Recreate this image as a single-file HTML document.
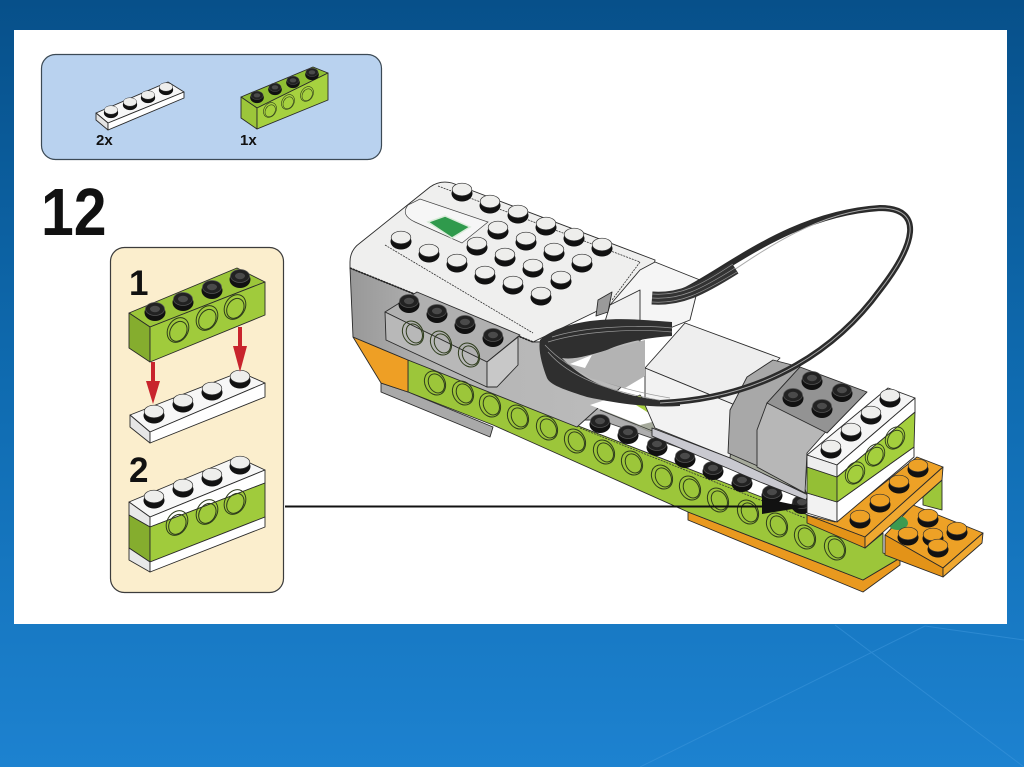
<!DOCTYPE html>
<html><head><meta charset="utf-8"><style>
html,body{margin:0;padding:0;width:1024px;height:767px;overflow:hidden;background:#1170b5}
svg{display:block}
text{font-family:"Liberation Sans",sans-serif;font-weight:bold;fill:#111}
.e polygon,.e path.l{stroke:#2a2a2a;stroke-width:.9;stroke-linejoin:round}
</style></head><body>
<svg width="1024" height="767" viewBox="0 0 1024 767" xmlns="http://www.w3.org/2000/svg">
<defs>
<linearGradient id="bg" x1="0" y1="0" x2="0" y2="1"><stop offset="0" stop-color="#07508a"/><stop offset=".5" stop-color="#0f6bb0"/><stop offset="1" stop-color="#1d82d0"/></linearGradient>
<linearGradient id="side" x1="0" y1="0" x2="1" y2="0"><stop offset="0" stop-color="#989898"/><stop offset=".3" stop-color="#b4b4b4"/><stop offset="1" stop-color="#bcbcbc"/></linearGradient>
<g id="w"><ellipse cx="0" cy="2.500" rx="10.500" ry="8" fill="#111"/><ellipse cx="0" cy="-1.500" rx="9.800" ry="6.300" fill="#eeeeec" stroke="#333" stroke-width=".7"/></g>
<g id="o"><ellipse cx="0" cy="2.500" rx="10.500" ry="8" fill="#111"/><ellipse cx="0" cy="-1.500" rx="9.800" ry="6.300" fill="#eda126" stroke="#333" stroke-width=".7"/></g>
<g id="k"><ellipse cx="0" cy="2.500" rx="10.500" ry="8.500" fill="#111"/><ellipse cx="0" cy="-1" rx="9.500" ry="6.500" fill="#222" stroke="#555" stroke-width=".7"/><ellipse cx="0" cy="-1" rx="5" ry="3.200" fill="#4a4a4a"/></g>
<g id="h" fill="none" stroke="#2e3c1c" stroke-width="1"><ellipse cx="0" cy="0" rx="10" ry="12.500" transform="rotate(-28)"/><ellipse cx="1" cy="1" rx="7.500" ry="10" transform="rotate(-28)"/></g>
<g id="j" fill="none" stroke="#2e3c1c" stroke-width="1"><ellipse cx="0" cy="0" rx="10" ry="13" transform="rotate(30)"/><ellipse cx="1" cy="1" rx="8" ry="10.500" transform="rotate(30)"/></g>
</defs>
<rect width="1024" height="767" fill="url(#bg)"/>
<g stroke="#3a94da" stroke-width="1" fill="none" opacity=".6"><path d="M640 767L925 626M835 625L1024 767M1024 640L925 626"/></g>
<rect x="14" y="30" width="993" height="594" fill="#fff"/>

<!-- parts panel -->
<rect x="41.500" y="54.500" width="340" height="105" rx="14" fill="#b9d2ef" stroke="#3c4a55" stroke-width="1.200"/>
<g class="e">
<polygon points="96,113 168,82 184,92 108,123" fill="#f7f7f7"/>
<polygon points="96,113 108,123 108,130 96,120" fill="#e4e4e4"/>
<polygon points="108,123 184,92 184,98 108,130" fill="#fff"/>
<polygon points="241,97 313,67 328,73 257,108" fill="#8fbe33"/>
<polygon points="241,97 257,108 257,129 241,118" fill="#9cc63a"/>
<polygon points="257,108 328,73 328,100 257,129" fill="#a6d13f"/>
</g>
<g transform="translate(111,111) scale(.68)"><use href="#w"/></g><g transform="translate(130,103) scale(.68)"><use href="#w"/></g><g transform="translate(148,96) scale(.68)"><use href="#w"/></g><g transform="translate(166,88) scale(.68)"><use href="#w"/></g>
<g transform="translate(257,96) scale(.65)"><use href="#k"/></g><g transform="translate(275,88) scale(.65)"><use href="#k"/></g><g transform="translate(293,81) scale(.65)"><use href="#k"/></g><g transform="translate(312,73) scale(.65)"><use href="#k"/></g>
<g transform="translate(270,110) scale(.6)"><use href="#j"/></g><g transform="translate(288,102) scale(.6)"><use href="#j"/></g><g transform="translate(307,94) scale(.6)"><use href="#j"/></g>
<text x="96" y="145" font-size="15">2x</text>
<text x="240" y="145" font-size="15">1x</text>
<text transform="translate(41,235) scale(.88,1)" font-size="67">12</text>

<!-- sub assembly panel -->
<rect x="110.500" y="247.500" width="173" height="345" rx="14" fill="#fbeecd" stroke="#3c3c3c" stroke-width="1.200"/>
<text x="129" y="295" font-size="35">1</text>
<text x="129" y="482" font-size="35">2</text>
<g class="e">
<polygon points="130,415 240,372 265,383 150,432" fill="#f7f7f7"/>
<polygon points="130,415 150,432 150,443 130,427" fill="#e6e6e6"/>
<polygon points="150,432 265,383 265,397 150,443" fill="#fff"/>
</g>
<g><use href="#w" x="154" y="413"/><use href="#w" x="183" y="402"/><use href="#w" x="212" y="390"/><use href="#w" x="240" y="378"/></g>
<g class="e">
<polygon points="129,313 237,268 265,282 150,327" fill="#9cc63a"/>
<polygon points="129,313 150,327 150,362 129,348" fill="#85ad2e"/>
<polygon points="150,327 265,282 265,315 150,362" fill="#a0cb3c"/>
</g>
<g><use href="#k" x="155" y="310"/><use href="#k" x="183" y="300"/><use href="#k" x="212" y="288"/><use href="#k" x="240" y="277"/></g>
<g><use href="#j" x="178" y="330"/><use href="#j" x="207" y="318"/><use href="#j" x="235" y="307"/></g>
<g fill="#c8242c"><path d="M151 362h4v19h5l-7 23-7-23h5z"/><path d="M238 327h4v19h5l-7 26-7-26h5z"/></g>
<g class="e">
<polygon points="129,502 237,457 265,470 150,517" fill="#f7f7f7"/>
<polygon points="129,502 150,517 150,527 129,515" fill="#e8e8e8"/>
<polygon points="150,517 265,470 265,483 150,527" fill="#fff"/>
<polygon points="129,515 150,527 150,562 129,548" fill="#85ad2e"/>
<polygon points="150,527 265,483 265,517 150,562" fill="#a0cb3c"/>
<polygon points="129,548 150,562 150,572 129,560" fill="#e8e8e8"/>
<polygon points="150,562 265,517 265,527 150,572" fill="#fff"/>
</g>
<g><use href="#w" x="154" y="498"/><use href="#w" x="183" y="487"/><use href="#w" x="212" y="476"/><use href="#w" x="240" y="464"/></g>
<g><use href="#j" x="177" y="523"/><use href="#j" x="207" y="512"/><use href="#j" x="235" y="502"/></g>

<!-- main model -->
<g class="e">
<polygon points="688,512 863,580 900,558 900,565 863,592 688,520" fill="#e9991f"/>
<polygon points="408,360 808,515 865,548 883,533 883,553 900,558 863,580 688,512 493,425 408,392" fill="#9cc63a"/>
<polygon points="381,383 408,392 493,427 490,437 381,392" fill="#a9a9a9"/>
<polygon points="353,337 408,360 408,392 381,383 370,365" fill="#ee9f25"/>
<polygon points="600,410 640,395 660,420 800,470 808,500 760,480" fill="#a8d040"/>
<polygon points="560,420 610,400 700,430 805,470 805,500 700,455 600,420" fill="#a6a6a6" opacity=".9"/>
<polygon points="350,268 533,342 640,340 640,370 577,427 408,360 353,337" fill="url(#side)"/>
</g>
<path d="M350 268V262Q350 250 360 243L430 187Q440 180 452 183L655 260L650 290L620 300L533 342Z" fill="#efefee" stroke="#2a2a2a" stroke-width=".9"/>
<path d="M385 245L533 333M438 186L640 262M640 262L612 300" stroke="#333" stroke-width=".8" fill="none" stroke-dasharray="2 1"/>
<path d="M350 268L533 342" stroke="#222" stroke-width="1.600" stroke-dasharray="2 1" fill="none"/>
<path d="M408 205Q400 215 415 222L462 243 488 222 420 199Z" fill="#f6f6f6" stroke="#444" stroke-width=".7"/>
<polygon points="428,222 445,216 470,227 452,238" fill="#2f9a4c" stroke="#d9ecd9" stroke-width="1.500"/>
<g class="e">
<polygon points="385,312 417,292 520,335 487,362" fill="#b0b0b0"/>
<polygon points="385,312 487,362 487,387 386,340" fill="#b8b8b8"/>
<polygon points="487,362 518,337 518,365 497,387 487,387" fill="#c8c8c8"/>
<polygon points="640,270 655,262 700,280 690,320 640,340 610,305" fill="#f5f5f5"/>
<polygon points="610,305 640,290 640,340 600,338" fill="#f0f0f0"/>
<polygon points="598,300 612,292 608,312 596,316" fill="#9a9a9a"/>
</g>
<g><use href="#w" x="462" y="191"/><use href="#w" x="490" y="203"/><use href="#w" x="518" y="213"/><use href="#w" x="546" y="225"/><use href="#w" x="574" y="236"/><use href="#w" x="602" y="246"/>
<use href="#w" x="498" y="229"/><use href="#w" x="526" y="240"/><use href="#w" x="554" y="251"/><use href="#w" x="582" y="262"/>
<use href="#w" x="477" y="245"/><use href="#w" x="505" y="256"/><use href="#w" x="533" y="267"/><use href="#w" x="561" y="279"/>
<use href="#w" x="401" y="239"/><use href="#w" x="429" y="252"/><use href="#w" x="457" y="262"/><use href="#w" x="485" y="274"/><use href="#w" x="513" y="284"/><use href="#w" x="541" y="295"/></g>
<g><use href="#k" x="409" y="302"/><use href="#k" x="437" y="312"/><use href="#k" x="465" y="323"/><use href="#k" x="493" y="336"/></g>
<g><use href="#h" x="413" y="333"/><use href="#h" x="441" y="343"/><use href="#h" x="469" y="355"/></g>
<g><use href="#h" x="435" y="383"/><use href="#h" x="463" y="393"/><use href="#h" x="490" y="405"/><use href="#h" x="518" y="417"/><use href="#h" x="547" y="428"/><use href="#h" x="575" y="441"/><use href="#h" x="604" y="452"/><use href="#h" x="632" y="463"/><use href="#h" x="662" y="477"/><use href="#h" x="690" y="488"/><use href="#h" x="718" y="500"/><use href="#h" x="748" y="512"/><use href="#h" x="777" y="525"/><use href="#h" x="805" y="537"/><use href="#h" x="835" y="548"/></g>
<path d="M600 410L805 492" stroke="#333" stroke-width=".8"/>
<path d="M580 428L805 518" stroke="#333" stroke-width=".8" stroke-dasharray="2 1"/>
<polygon points="590,405 620,395 660,420 640,425" fill="#fff"/>
<g><use href="#k" x="600" y="422"/><use href="#k" x="628" y="433"/><use href="#k" x="657" y="445"/><use href="#k" x="685" y="457"/><use href="#k" x="713" y="469"/><use href="#k" x="742" y="481"/><use href="#k" x="772" y="493"/><use href="#k" x="802" y="503"/></g>

<!-- motor -->
<g class="e">
<polygon points="645,368 685,323 780,358 735,405" fill="#eeeeee"/>
<polygon points="645,368 735,405 730,458 655,428 645,405" fill="#f2f2f2"/>
<polygon points="747,377 773,360 800,367 767,403 760,430 760,467 728,453 730,410" fill="#a8a8a8"/>
<polygon points="767,403 830,427 807,453 805,493 757,467 757,430" fill="#b7b7b7"/>
<polygon points="800,367 867,392 827,433 767,403" fill="#939393"/>
<polygon points="652,428 730,458 760,472 808,495 806,500 760,482 652,436" fill="#c9c9d0"/>
</g>
<g><use href="#k" x="812" y="379"/><use href="#k" x="793" y="396"/><use href="#k" x="842" y="391"/><use href="#k" x="822" y="407"/></g>

<!-- cable -->
<path d="M540 340C550 330 573 322 600 320C625 318 645 320 672 322L672 336C645 338 625 342 607 350C590 355 575 360 562 358C575 372 595 385 620 392C640 398 655 400 680 402L680 406C650 408 620 404 587 397C565 390 550 385 547 378C542 365 538 350 540 340Z" fill="#2f2f2f"/>
<path d="M548 352C570 378 610 392 670 402M545 345C570 372 610 388 670 398M552 337C580 328 630 324 672 328M548 342C580 332 630 328 672 332" fill="none" stroke="#999" stroke-width=".7"/>
<polygon points="570,365 607,350 645,340 645,376 625,388 590,378" fill="#b3b3b3"/>
<polygon points="570,364 592,355 585,368" fill="#fff"/>
<path d="M655 300C700 298 770 215 880 208C925 208 915 245 880 290C840 345 770 398 660 403" fill="none" stroke="#2b2b2b" stroke-width="6"/>
<path d="M700 293C750 260 810 212 880 208C925 208 915 245 880 290C840 345 770 398 660 403" fill="none" stroke="#aaa" stroke-width="1"/>
<path d="M652 298C680 300 700 290 735 268" fill="none" stroke="#333" stroke-width="13"/>
<path d="M652 294C680 296 700 286 733 264M652 298C680 300 700 290 735 268M652 302C680 304 700 294 737 272" fill="none" stroke="#999" stroke-width=".7"/>

<!-- right stack -->
<g class="e">
<polygon points="885,535 913,505 983,533 943,568" fill="#eda126"/>
<polygon points="885,535 943,568 943,577 885,555" fill="#e39318"/>
<polygon points="943,568 983,533 982,543 943,577" fill="#f0a830"/>
<polygon points="923,497 942,480 942,510 923,505" fill="#9cc63a"/>
</g>
<ellipse cx="898" cy="523" rx="10" ry="7" fill="#3d9a50"/>
<g><use href="#o" x="933" y="536"/><use href="#o" x="928" y="517"/><use href="#o" x="908" y="535"/><use href="#o" x="957" y="530"/><use href="#o" x="938" y="547"/></g>
<g class="e">
<polygon points="807,515 865,537 943,467 917,457 835,522" fill="#eda126"/>
<polygon points="807,515 865,537 865,548 807,523" fill="#e39318"/>
<polygon points="865,537 943,467 942,480 865,548" fill="#f0a830"/>
<polygon points="807,493 837,502 837,522 807,513" fill="#f2f2f2"/>
<polygon points="837,502 914,447 914,457 837,522" fill="#fff"/>
<polygon points="807,467 837,477 837,502 807,493" fill="#94bf35"/>
<polygon points="837,477 915,412 914,447 837,502" fill="#a4cf3d"/>
<polygon points="807,455 888,388 915,398 837,465" fill="#f5f5f5"/>
<polygon points="807,455 837,465 837,477 807,467" fill="#eeeeee"/>
<polygon points="837,465 915,398 915,412 837,477" fill="#fff"/>
</g>
<g><use href="#w" x="890" y="397"/><use href="#w" x="871" y="414"/><use href="#w" x="851" y="431"/><use href="#w" x="831" y="448"/></g>
<g transform="translate(855,473) scale(.9)"><use href="#j"/></g><g transform="translate(875,455) scale(.9)"><use href="#j"/></g><g transform="translate(895,438) scale(.9)"><use href="#j"/></g>
<g><use href="#o" x="860" y="518"/><use href="#o" x="880" y="502"/><use href="#o" x="899" y="483"/><use href="#o" x="918" y="467"/></g>

<!-- arrow -->
<path d="M285 506.500H775" stroke="#111" stroke-width="2"/>
<polygon points="762,498 805,507 762,514" fill="#111"/>
</svg>
</body></html>
